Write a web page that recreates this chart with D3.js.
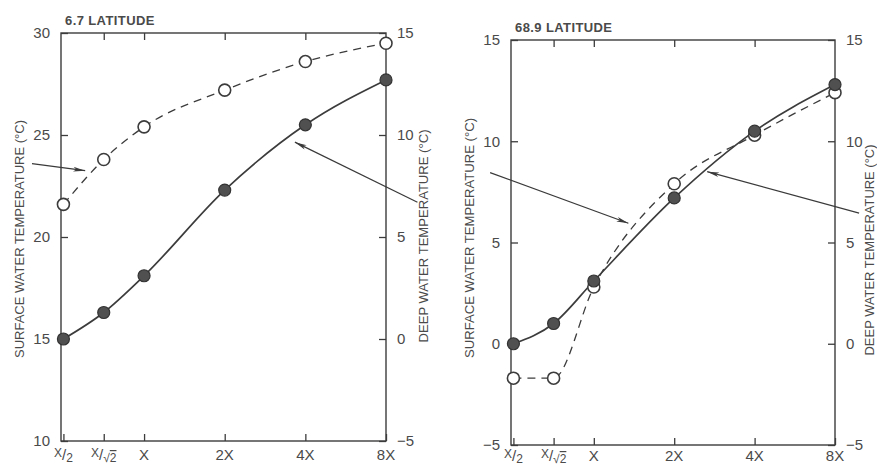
<!DOCTYPE html>
<html><head><meta charset="utf-8">
<script src="https://cdn.jsdelivr.net/npm/d3@7/dist/d3.min.js"></script>
<style>
body{margin:0;background:#fff;}
svg{display:block;}
text{font-family:"Liberation Sans","DejaVu Sans",sans-serif;fill:#4a4a4a;}
</style></head><body>
<svg id="c" width="877" height="471"></svg>
<script>
// ---- data ----
const categories = ["X/2", "X/√2", "X", "2X", "4X", "8X"];
const categoryLog2 = [-1, -0.5, 0, 1, 2, 3];
// 6.7 latitude
const lowSurface = [21.6, 23.8, 25.4, 27.2, 28.6, 29.5];
const lowDeep = [0.0, 1.3, 3.1, 7.3, 10.5, 12.7];
// 68.9 latitude
const highSurface = [-1.7, -1.7, 2.8, 7.9, 10.3, 12.4];
const highDeep = [0.0, 1.0, 3.1, 7.2, 10.5, 12.8];
const lowSurfaceTicks = [10, 15, 20, 25, 30];
const lowDeepTicks = [-5, 0, 5, 10, 15];
const highSurfaceTicks = [-5, 0, 5, 10, 15];
const highDeepTicks = [-5, 0, 5, 10, 15];
const titles = ["6.7  LATITUDE", "68.9  LATITUDE"];
// annotation arrows in data units [x(log2), surface-axis value]
const lowArrows = [[[-1.39, 23.6], [-0.73, 23.25]], [[3.39, 21.7], [1.87, 24.65]]];
const highArrows = [[[-1.29, 8.45], [0.43, 5.95]], [[3.30, 6.45], [1.41, 8.5]]];

const svg = d3.select("#c");
const defs = svg.append("defs");
defs.append("marker").attr("id","ah").attr("viewBox","0 0 12 6").attr("refX",12).attr("refY",3)
  .attr("markerWidth",12).attr("markerHeight",6).attr("markerUnits","userSpaceOnUse").attr("orient","auto")
  .append("path").attr("d","M0,0.6 L12,3 L0,5.4 L3,3 Z").attr("fill","#3a3a3a");

function panel(o){
  const g = svg.append("g");
  const x = d3.scaleLinear().domain([-1.03, 3]).range([o.left, o.right]);
  const yL = d3.scaleLinear().domain(o.lDomain).range([o.bottom, o.top]);
  const yR = d3.scaleLinear().domain(o.rDomain).range([o.bottom, o.top]);
  const stroke = "#3c3c3c";
  // frame
  g.append("rect").attr("x",o.left).attr("y",o.top).attr("width",o.right-o.left).attr("height",o.bottom-o.top)
    .attr("fill","none").attr("stroke",stroke).attr("stroke-width",1.4);
  // axes with inward ticks
  const axL = d3.axisLeft(yL).tickValues(o.lTicks).tickSize(-7).tickPadding(11).tickFormat(d3.format("d"));
  const axR = d3.axisRight(yR).tickValues(o.rTicks).tickSize(-7).tickPadding(11).tickFormat(d3.format("d"));
  const axB = d3.axisBottom(x).tickValues(categoryLog2).tickSize(-7).tickFormat(()=>"");
  const axT = d3.axisTop(x).tickValues(categoryLog2.slice(1,5)).tickSize(-7).tickFormat(()=>"");
  [[axL,`translate(${o.left},0)`],[axR,`translate(${o.right},0)`],[axB,`translate(0,${o.bottom})`],[axT,`translate(0,${o.top})`]]
   .forEach(([a,t])=>{
     const ag = g.append("g").attr("transform",t).call(a);
     ag.select(".domain").remove();
     ag.selectAll(".tick line").attr("stroke",stroke).attr("stroke-width",1.3);
     ag.selectAll(".tick text").style("font-size","15px").attr("fill","#4a4a4a").style("font-family","Liberation Sans, sans-serif");
   });
  // x category labels
  const lab = g.append("g");
  categories.forEach((c,i)=>{
    const t = lab.append("text").attr("x", x(categoryLog2[i])).attr("y", o.bottom+o.xLabOff).attr("text-anchor","middle").style("font-size","15px");
    if(c==="X/2"){
      t.append("tspan").text("X").style("font-size","12px").attr("dy",-3);
      t.append("tspan").text("/").attr("dy",3);
      t.append("tspan").text("2").style("font-size","12px").attr("dy",2);
    } else if(c==="X/√2"){
      t.append("tspan").text("X").style("font-size","12px").attr("dy",-3);
      t.append("tspan").text("/").attr("dy",3);
      t.append("tspan").text("√").style("font-size","12px").attr("dy",2);
      t.append("tspan").text("2").style("font-size","12px").style("text-decoration","overline");
    } else t.text(c);
  });
  // title
  g.append("text").attr("x",o.left+4).attr("y",o.top-8).text(o.title)
    .style("font-size","13px").style("font-weight","bold").style("letter-spacing","0.4px").attr("fill","#383838");
  // axis titles
  g.append("text").attr("transform",`translate(${o.lLabelX},${o.lLabelY}) rotate(-90)`).attr("text-anchor","middle")
    .attr("textLength",o.lLabelLen).attr("lengthAdjust","spacingAndGlyphs")
    .style("font-size","12.5px").text("SURFACE WATER TEMPERATURE (°C)");
  g.append("text").attr("transform",`translate(${o.rLabelX},${o.rLabelY}) rotate(-90)`).attr("text-anchor","middle")
    .attr("textLength",o.rLabelLen).attr("lengthAdjust","spacingAndGlyphs")
    .style("font-size","12.5px").text("DEEP WATER TEMPERATURE (°C)");
  // lines
  const lineL = d3.line().x((d,i)=>x(categoryLog2[i])).y(d=>yL(d)).curve(d3.curveMonotoneX);
  const lineR = d3.line().x((d,i)=>x(categoryLog2[i])).y(d=>yR(d)).curve(d3.curveMonotoneX);
  g.append("path").attr("d",lineL(o.surface)).attr("fill","none").attr("stroke",stroke).attr("stroke-width",1.3).attr("stroke-dasharray","8,6");
  g.append("path").attr("d",lineR(o.deep)).attr("fill","none").attr("stroke",stroke).attr("stroke-width",1.7);
  // arrows
  o.arrows.forEach(a=>{
    g.append("line").attr("x1",x(a[0][0])).attr("y1",yL(a[0][1])).attr("x2",x(a[1][0])).attr("y2",yL(a[1][1]))
      .attr("stroke","#3a3a3a").attr("stroke-width",1.2).attr("marker-end","url(#ah)");
  });
  // points
  g.selectAll(".s").data(o.surface).enter().append("circle")
    .attr("cx",(d,i)=>x(categoryLog2[i])).attr("cy",d=>yL(d)).attr("r",6)
    .attr("fill","#fff").attr("stroke",stroke).attr("stroke-width",1.6);
  g.selectAll(".d").data(o.deep).enter().append("circle")
    .attr("cx",(d,i)=>x(categoryLog2[i])).attr("cy",d=>yR(d)).attr("r",6)
    .attr("fill","#505050").attr("stroke","#333").attr("stroke-width",1.2);
}

panel({left:61,right:386,top:33,bottom:441,lDomain:[10,30],rDomain:[-5,15],lTicks:lowSurfaceTicks,rTicks:lowDeepTicks,
  surface:lowSurface,deep:lowDeep,title:titles[0],arrows:lowArrows,xLabOff:19,
  lLabelX:24,lLabelY:239,lLabelLen:238,rLabelX:428,rLabelY:236,rLabelLen:213});
panel({left:511,right:835,top:40,bottom:445,lDomain:[-5,15],rDomain:[-5,15],lTicks:highSurfaceTicks,rTicks:highDeepTicks,
  surface:highSurface,deep:highDeep,title:titles[1],arrows:highArrows,xLabOff:16,
  lLabelX:474,lLabelY:238,lLabelLen:240,rLabelX:874,rLabelY:250,rLabelLen:211});
</script></body></html>
